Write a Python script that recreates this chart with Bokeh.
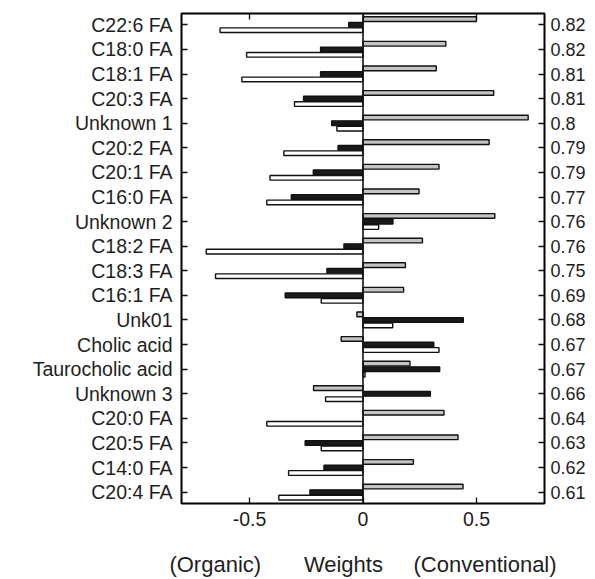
from bokeh.plotting import figure
from bokeh.models import ColumnDataSource, FixedTicker, LinearAxis, Span, Range1d
from bokeh.transform import dodge
from bokeh.embed import file_html
from bokeh.resources import INLINE

categories = ["C22:6 FA", "C18:0 FA", "C18:1 FA", "C20:3 FA", "Unknown 1",
              "C20:2 FA", "C20:1 FA", "C16:0 FA", "Unknown 2", "C18:2 FA",
              "C18:3 FA", "C16:1 FA", "Unk01", "Cholic acid", "Taurocholic acid",
              "Unknown 3", "C20:0 FA", "C20:5 FA", "C14:0 FA", "C20:4 FA"]
right_labels = ["0.82", "0.82", "0.81", "0.81", "0.8", "0.79", "0.79", "0.77",
                "0.76", "0.76", "0.75", "0.69", "0.68", "0.67", "0.67", "0.66",
                "0.64", "0.63", "0.62", "0.61"]
gray_vals = [0.50, 0.365, 0.323, 0.576, 0.728, 0.556, 0.335, 0.247, 0.581, 0.262,
             0.187, 0.179, -0.027, -0.096, 0.207, -0.218, 0.357, 0.419, 0.222, 0.441]
black_vals = [-0.063, -0.187, -0.187, -0.262, -0.138, -0.110, -0.219, -0.316, 0.132, -0.084,
              -0.159, -0.343, 0.442, 0.312, 0.338, 0.297, 0.0, -0.255, -0.172, -0.234]
white_vals = [-0.63, -0.513, -0.534, -0.302, -0.115, -0.349, -0.41, -0.424, 0.069, -0.691,
              -0.650, -0.184, 0.131, 0.335, 0.009, -0.165, -0.424, -0.184, -0.328, -0.371]
x_ticks = [-0.5, 0, 0.5]
x_tick_labels = ["-0.5", "0", "0.5"]
x_title_parts = ["(Organic)", "Weights", "(Conventional)"]

n = len(categories)
pos = [n - 1 - i for i in range(n)]
src = ColumnDataSource(dict(pos=pos, cat=categories, gray=gray_vals,
                            black=black_vals, white=white_vals))

FONT = "Liberation Sans"
TXT = "#1e1e1e"

p = figure(width=595, height=579, output_backend="svg", toolbar_location=None,
           x_range=Range1d(-0.8, 0.8), y_range=Range1d(-0.46, n - 1 + 0.46),
           x_axis_location="below", y_axis_location="left",
           min_border_left=181, min_border_right=51, min_border_top=13,
           min_border_bottom=76)
p.grid.visible = False
p.outline_line_color = "black"
p.outline_line_width = 2
p.background_fill_color = "white"
p.border_fill_color = "white"

h = 0.19
lw = 1.4
p.hbar(y=dodge("pos", 0.23), left=0, right="gray", height=h, source=src,
       fill_color="#c4c4c4", line_color="#111111", line_width=lw)
p.hbar(y=dodge("pos", 0.0), left=0, right="black", height=h, source=src,
       fill_color="#1a1a1a", line_color="#111111", line_width=lw)
p.hbar(y=dodge("pos", -0.22), left=0, right="white", height=h, source=src,
       fill_color="white", line_color="#111111", line_width=lw)

p.add_layout(Span(location=0, dimension="height", line_color="#111111", line_width=1.6))

def style_axis(ax):
    ax.axis_line_color = None
    ax.major_tick_in = 6
    ax.major_tick_out = 0
    ax.minor_tick_line_color = None
    ax.major_tick_line_color = "#111111"
    ax.major_tick_line_width = 1.3
    ax.major_label_text_font = FONT
    ax.major_label_text_color = TXT

# bottom axis
xa = p.xaxis[0]
style_axis(xa)
xa.ticker = FixedTicker(ticks=x_ticks)
xa.major_label_overrides = {t: l for t, l in zip(x_ticks, x_tick_labels)}
xa.major_label_text_font_size = "19.5px"
xa.major_label_standoff = 8
nb = "\u00a0"
xa.axis_label = x_title_parts[0] + nb * 7 + x_title_parts[1] + nb * 5 + x_title_parts[2]
xa.axis_label_text_font = FONT
xa.axis_label_text_font_style = "normal"
xa.axis_label_text_font_size = "22px"
xa.axis_label_text_color = TXT
xa.axis_label_standoff = 23

# top axis (ticks only)
ta = LinearAxis(ticker=FixedTicker(ticks=x_ticks))
style_axis(ta)
ta.major_label_text_color = None
ta.major_label_text_font_size = "1px"
p.add_layout(ta, "above")

# left axis
ya = p.yaxis[0]
style_axis(ya)
ya.ticker = FixedTicker(ticks=pos)
ya.major_label_overrides = {pp: c for pp, c in zip(pos, categories)}
ya.major_label_text_font_size = "19.5px"
ya.major_label_standoff = 9

# right axis
ra = LinearAxis(ticker=FixedTicker(ticks=pos))
style_axis(ra)
ra.major_label_overrides = {pp: l for pp, l in zip(pos, right_labels)}
ra.major_label_text_font_size = "18px"
ra.major_label_standoff = 6
p.add_layout(ra, "right")

open("out.html", "w").write(file_html(p, INLINE))
